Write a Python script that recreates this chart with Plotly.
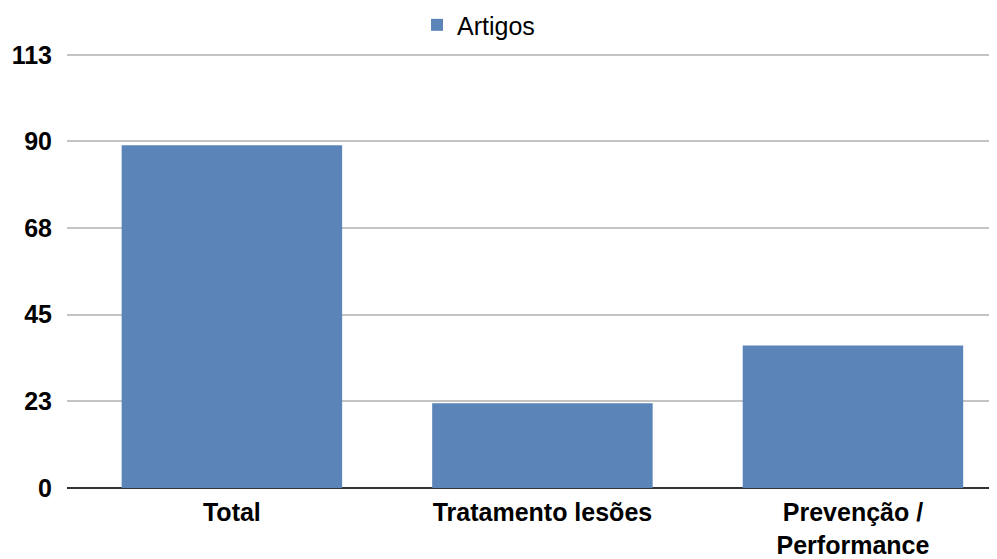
import plotly.graph_objects as go

categories = ["Total", "Tratamento lesões", "Prevenção /<br>Performance"]
values = [89, 22, 37]
series_name = "Artigos"
tick_vals = [0, 22.5, 45, 67.5, 90, 112.5]
tick_text = ["0", "23", "45", "68", "90", "113"]

FONT = "Liberation Sans Narrow, Arial Narrow, Liberation Sans, Arial, sans-serif"
BAR = "#5b85b9"
FS = 25

fig = go.Figure()
fig.add_trace(go.Bar(
    x=list(range(len(categories))), y=values, name=series_name,
    marker=dict(color=BAR, line=dict(width=0)),
    width=0.71, showlegend=True,
))

# page body has an 8px margin, so the figure is sized/offset to compensate
fig.update_layout(
    width=989, height=551,
    margin=dict(l=59, r=4, t=43, b=71),
    paper_bgcolor="white", plot_bgcolor="white",
    font=dict(family=FONT, size=FS, color="black"),
    showlegend=True,
    legend=dict(orientation="h", x=0.378, xanchor="left",
                yref="container", y=0.969, yanchor="middle",
                font=dict(family=FONT, size=FS, color="black"),
                itemwidth=30, bgcolor="rgba(0,0,0,0)"),
    xaxis=dict(
        range=[-0.531, 2.451], tickmode="array", automargin=False,
        tickvals=list(range(len(categories))), ticktext=["<b>%s</b>" % c for c in categories],
        showgrid=False, zeroline=False, showline=False, ticks="",
        ticklabelstandoff=7,
        tickfont=dict(family=FONT, size=25, color="black"),
    ),
    yaxis=dict(
        range=[0, 113.5], tickmode="array", tickvals=tick_vals, automargin=False,
        ticktext=["<b>%s</b>" % t for t in tick_text],
        showgrid=True, gridcolor="#c4c4c4", gridwidth=1.5,
        zeroline=True, zerolinecolor="#333333", zerolinewidth=2,
        showline=False, ticks="", ticklabelstandoff=14,
        tickfont=dict(family=FONT, size=FS, color="black"),
    ),
    bargap=0.29,
)

fig.write_html("out.html")
